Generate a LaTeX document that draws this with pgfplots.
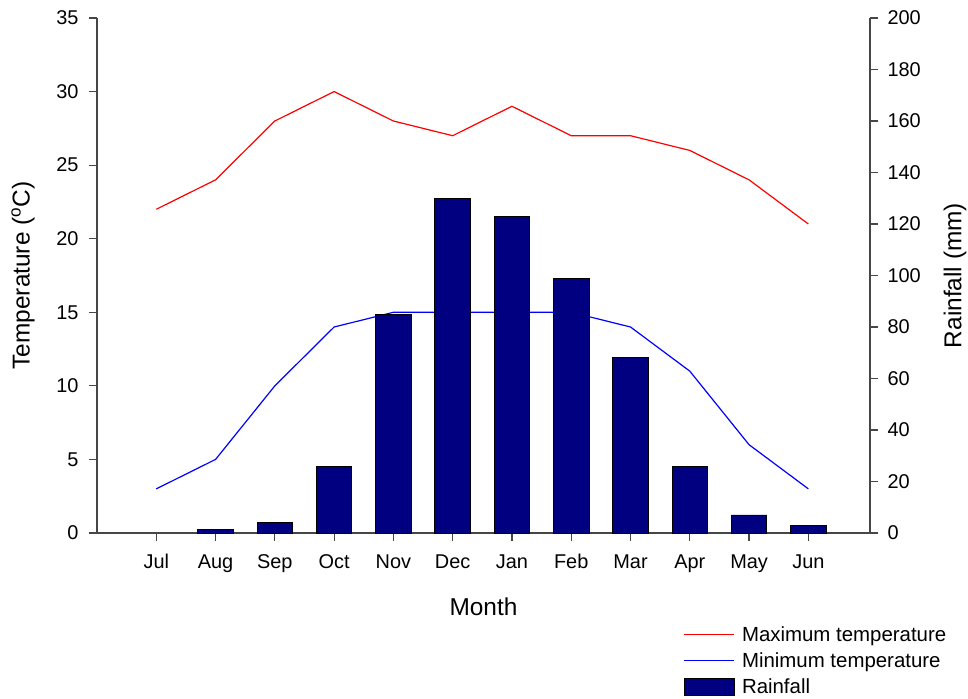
\documentclass[border=0pt]{standalone}
\usepackage{pgfplots}
\pgfplotsset{compat=1.18}
\usepackage{fontspec}
\setmainfont{Liberation Sans}
\usetikzlibrary{calc}
\definecolor{navybar}{RGB}{0,0,128}
\definecolor{axisgray}{RGB}{70,70,70}

\pgfplotsset{
  common/.style={
    scale only axis, width=773bp, height=515bp,
    xmin=-1, xmax=12.04,
    axis line style={axisgray, line width=1.2bp},
    tick style={axisgray, line width=1.2bp},
    major tick length=8bp,
    tick align=outside,
    ticklabel style={font=\fontsize{20}{24}\selectfont},
    label style={font=\fontsize{24.5}{29}\selectfont},
    /pgf/number format/assume math mode=true,
  },
}

\begin{document}
\begin{tikzpicture}
\begin{axis}[
    common,
    axis x line*=bottom, axis y line*=left,
    ymin=0, ymax=35, ytick={0,5,...,35},
    xtick={0,...,11},
    xticklabels={Jul,Aug,Sep,Oct,Nov,Dec,Jan,Feb,Mar,Apr,May,Jun},
    xticklabel style={yshift=-10bp},
    yticklabel style={xshift=-7bp},
    xlabel={Month},
    ylabel={Temperature (\textsuperscript{o}C)},
    xlabel style={at={(axis description cs:0.5,0)}, anchor=center, yshift=-74bp},
    ylabel style={at={(axis description cs:0,0.5)}, anchor=center, yshift=74bp},
  ]
  % maximum temperature
  \addplot[red, line width=1.2bp] coordinates {
    (0,22) (1,24) (2,28) (3,30) (4,28) (5,27) (6,29) (7,27) (8,27) (9,26) (10,24) (11,21)
  };
  % minimum temperature
  \addplot[blue, line width=1.2bp] coordinates {
    (0,3) (1,5) (2,10) (3,14) (4,15) (5,15) (6,15) (7,15) (8,14) (9,11) (10,6) (11,3)
  };
  \coordinate (bl) at (rel axis cs:0,0);
  \coordinate (tr) at (rel axis cs:1,1);
\end{axis}

\begin{axis}[
    common,
    axis y line*=right, axis x line=none,
    ymin=0, ymax=200, ytick={0,20,...,200},
    yticklabel style={xshift=6bp},
    ylabel={Rainfall (mm)},
    ylabel style={at={(axis description cs:1,0.5)}, anchor=center, yshift=-85bp},
    legend style={at={(rel axis cs:0.755,-0.173)}, anchor=north west, draw=none, fill=none,
      font=\fontsize{20.5}{23}\selectfont, row sep=6bp, column sep=5bp},
    legend cell align=left,
  ]
  \addlegendimage{legend image code/.code={\draw[red, line width=1.2bp] (0bp,0bp) -- (50bp,0bp);}}
  \addlegendentry{Maximum temperature}
  \addlegendimage{legend image code/.code={\draw[blue, line width=1.2bp] (0bp,0bp) -- (50bp,0bp);}}
  \addlegendentry{Minimum temperature}
  \addplot[ybar, bar width=0.6, fill=navybar, draw=black, line width=0.9bp,
    legend image code/.code={\draw[fill=navybar, draw=black, line width=0.9bp] (0bp,-8bp) rectangle (50bp,9bp);}]
    coordinates {
    (1,1.2) (2,4.2) (3,26) (4,85) (5,130) (6,123) (7,99) (8,68) (9,26) (10,7) (11,3.1)
  };
  \addlegendentry{Rainfall}
\end{axis}
\pgfresetboundingbox
\path ($(bl)+(-97bp,-166bp)$) rectangle ($(tr)+(98bp,18bp)$);
\end{tikzpicture}
\end{document}
